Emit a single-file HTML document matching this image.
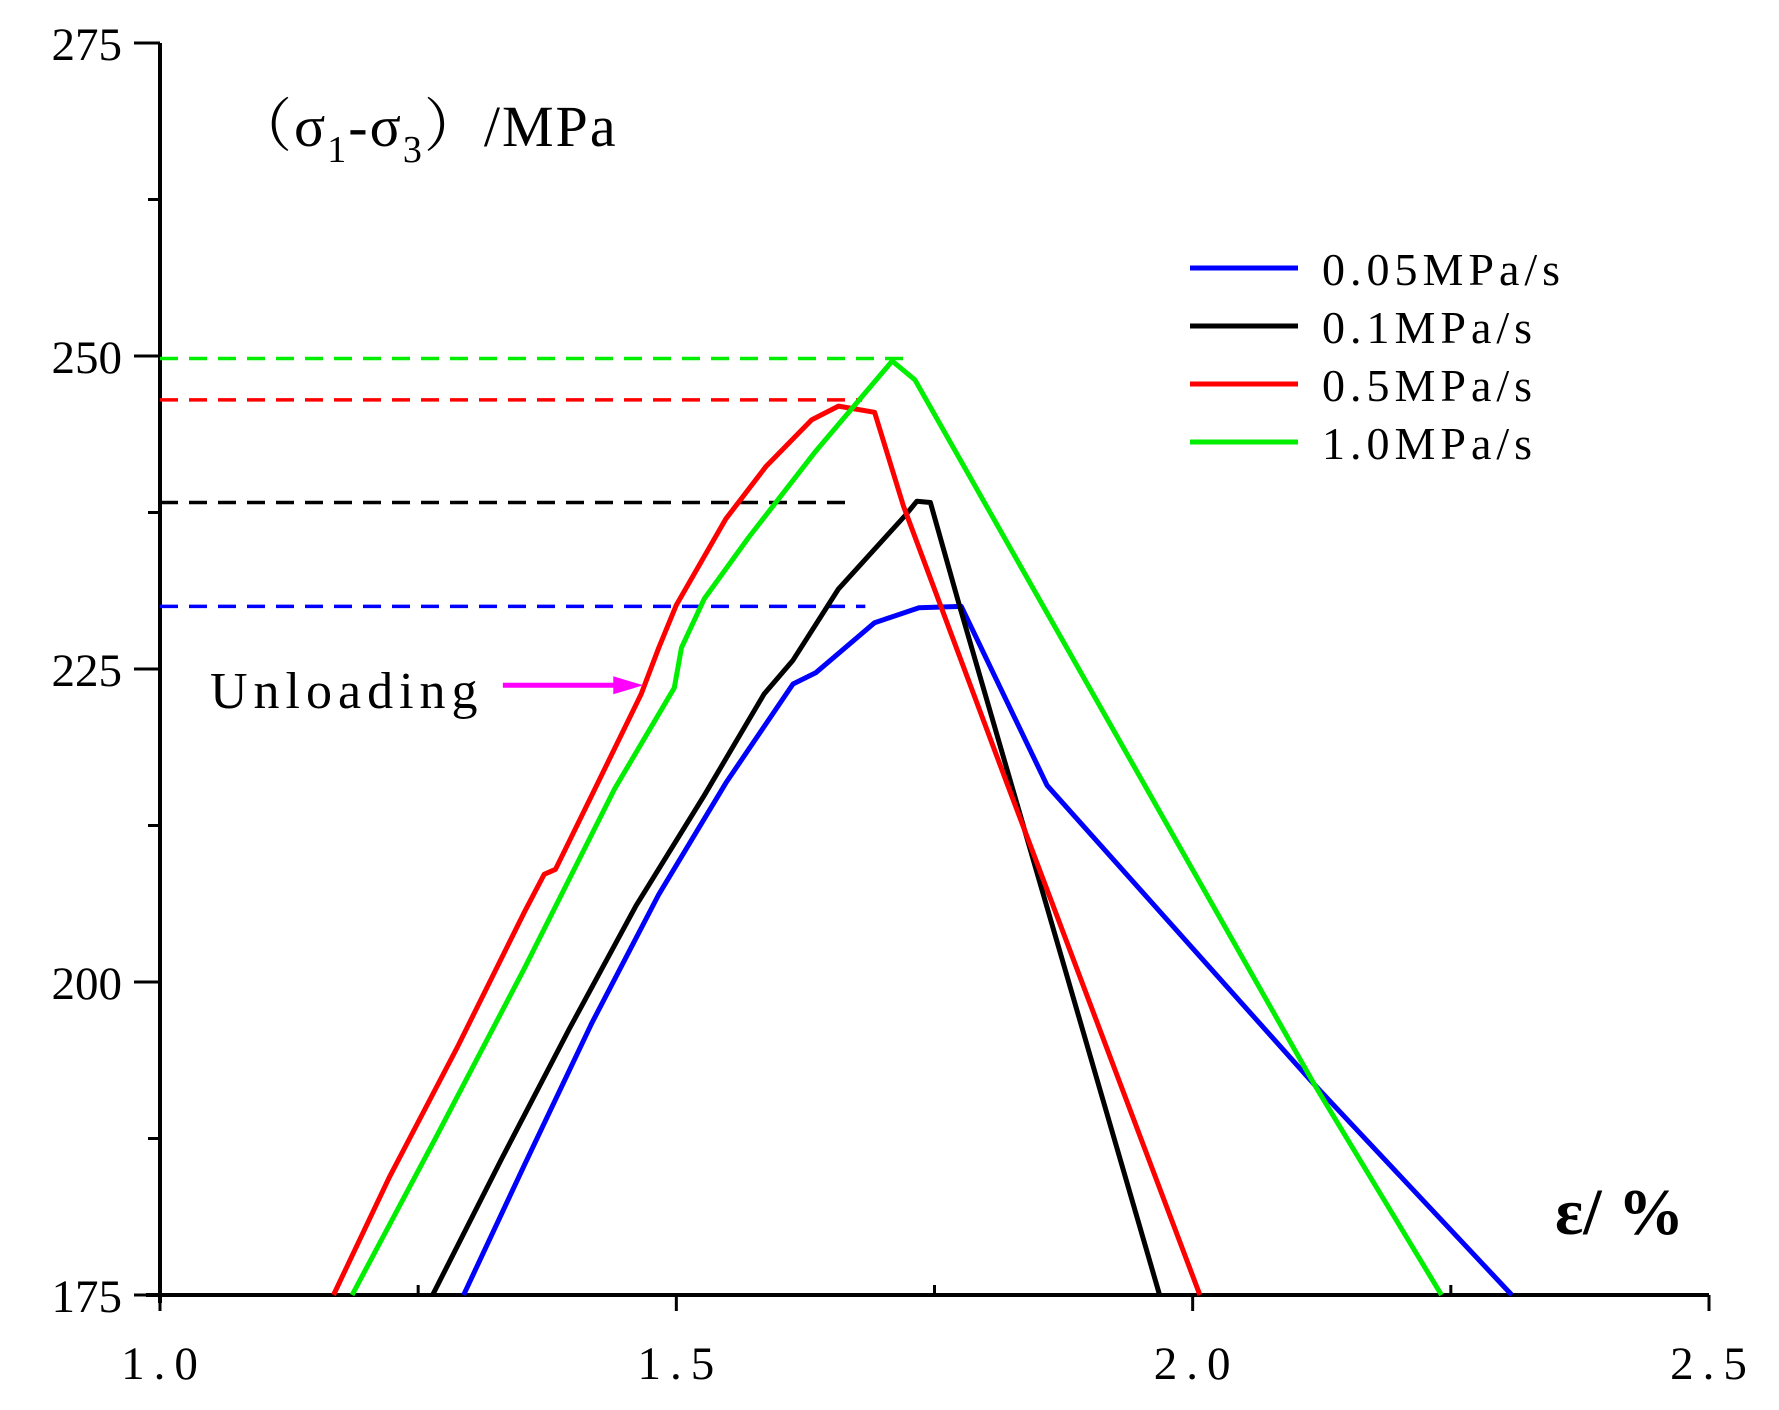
<!DOCTYPE html>
<html><head><meta charset="utf-8"><style>
html,body{margin:0;padding:0;background:#fff;}
svg{display:block;font-family:"Liberation Serif","Noto Serif CJK SC",serif;}
</style></head><body>
<svg id="chart" width="1779" height="1410" viewBox="0 0 1779 1410" xmlns="http://www.w3.org/2000/svg">
<g id="axes"></g>
<g id="series"></g>
<text x="234" y="146" font-size="58" letter-spacing="2">（σ<tspan font-size="38" dy="16">1</tspan><tspan dy="-16">-σ</tspan><tspan font-size="38" dy="16">3</tspan><tspan dy="-16">）/MPa</tspan></text>
<text x="1555" y="1234" font-size="66" font-weight="bold">ε/ %</text>
<text x="210" y="708" font-size="52" letter-spacing="6">Unloading</text>
<g id="legend"></g>
</svg>
<script>
const xTicks = [1.0, 1.5, 2.0, 2.5];
const xTickLabels = ["1.0", "1.5", "2.0", "2.5"];
const xMinorTicks = [1.25, 1.75, 2.25];
const yTicks = [175, 200, 225, 250, 275];
const yTickLabels = ["175", "200", "225", "250", "275"];
const yMinorTicks = [187.5, 212.5, 237.5, 262.5];
const seriesNames = ["0.05MPa/s", "0.1MPa/s", "0.5MPa/s", "1.0MPa/s"];
const seriesColors = ["#0000ff", "#000000", "#ff0000", "#00ee00"];
const blueX = [1.294,1.353,1.418,1.483,1.548,1.613,1.635,1.692,1.735,1.776,1.859,2.118,2.309];
const blueY = [175,185.4,196.7,207.0,215.9,223.8,224.7,228.7,229.9,230.0,215.7,191.8,175];
const blackX = [1.264,1.331,1.396,1.461,1.527,1.585,1.613,1.657,1.722,1.733,1.746,1.774,1.968];
const blackY = [175,185.9,196.2,206.1,214.9,223.0,225.7,231.4,237.3,238.4,238.3,230.1,175];
const redX = [1.168,1.222,1.288,1.353,1.372,1.383,1.418,1.466,1.483,1.500,1.548,1.587,1.631,1.657,1.692,1.720,1.820,2.007];
const redY = [175,184.4,194.8,205.6,208.6,209.0,214.9,223.0,226.7,230.1,237.0,241.2,244.9,246.0,245.5,238.0,215.9,175];
const greenX = [1.186,1.266,1.353,1.440,1.498,1.505,1.527,1.570,1.635,1.709,1.731,2.118,2.241];
const greenY = [175,187.4,201.1,215.4,223.5,226.7,230.6,235.5,242.4,249.6,248.1,191.8,175];
const peakY = [230.0, 238.3, 246.5, 249.8];
const peakEndX = [1.683, 1.669, 1.680, 1.720];
const arrowX = [1.332, 1.468];
const arrowY = 223.7;

const X0=160, X1=1709, Y0=1295, Y1=43;
const sx = v => X0 + (v-1.0)/(2.5-1.0)*(X1-X0);
const sy = v => Y0 - (v-175)/(275-175)*(Y0-Y1);
const NS="http://www.w3.org/2000/svg";
function mk(tag, attrs, parent){const e=document.createElementNS(NS,tag);for(const k in attrs)e.setAttribute(k,attrs[k]);parent.appendChild(e);return e;}
const axes=document.getElementById('axes'), series=document.getElementById('series'), legend=document.getElementById('legend');

let e=mk('line',{x1:X0,y1:Y0+8,x2:X0,y2:Y1,stroke:'#000','stroke-width':4},axes);


e=mk('line',{x1:X0-14,y1:Y0,x2:X1,y2:Y0,stroke:'#000','stroke-width':4},axes);


yTicks.forEach((v,i)=>{
  let t=mk('line',{x1:X0-26,y1:sy(v),x2:X0,y2:sy(v),stroke:'#000','stroke-width':3},axes);
  
  
  let l=mk('text',{x:X0-38,y:sy(v)+17,'font-size':47,'text-anchor':'end'},axes);
  l.textContent=yTickLabels[i];
  
  
});
yMinorTicks.forEach(v=>{
  let t=mk('line',{x1:X0-12,y1:sy(v),x2:X0,y2:sy(v),stroke:'#000','stroke-width':3},axes);
  
  
});
xTicks.forEach((v,i)=>{
  let t=mk('line',{x1:sx(v),y1:Y0,x2:sx(v),y2:Y0+16,stroke:'#000','stroke-width':3},axes);
  
  
  let l=mk('text',{x:sx(v)+4,y:Y0+84,'font-size':47,'text-anchor':'middle','letter-spacing':'9'},axes);
  l.textContent=xTickLabels[i];
  
  
});
xMinorTicks.forEach(v=>{
  let t=mk('line',{x1:sx(v),y1:Y0,x2:sx(v),y2:Y0-10,stroke:'#000','stroke-width':3},axes);
  
  
});

const allX=[blueX,blackX,redX,greenX], allY=[blueY,blackY,redY,greenY];
const ids=['blue','black','red','green'];
peakY.forEach((v,i)=>{
  let d=mk('line',{x1:X0,y1:sy(v),x2:sx(peakEndX[i]),y2:sy(v),stroke:seriesColors[i],'stroke-width':3.5,'stroke-dasharray':'18 11'},series);
  
  
});
allX.forEach((xs,i)=>{
  const pts=xs.map((x,j)=>sx(x).toFixed(1)+','+sy(allY[i][j]).toFixed(1)).join(' ');
  let p=mk('polyline',{points:pts,fill:'none',stroke:seriesColors[i],'stroke-width':5,'stroke-linejoin':'round'},series);
  
  
});
let a=mk('line',{x1:sx(arrowX[0]),y1:sy(arrowY),x2:sx(arrowX[1])-22,y2:sy(arrowY),stroke:'#ff00ff','stroke-width':5},series);


const ax=sx(arrowX[1]), ay=sy(arrowY);
let ah=mk('polygon',{points:`${ax},${ay} ${ax-30},${ay-9} ${ax-30},${ay+9}`,fill:'#ff00ff'},series);


seriesNames.forEach((n,i)=>{
  const y=268+i*58;
  let g=mk('g',{},legend);
  
  
  mk('line',{x1:1190,y1:y,x2:1298,y2:y,stroke:seriesColors[i],'stroke-width':5},g);
  let t=mk('text',{x:1322,y:y+17,'font-size':46,'letter-spacing':'5'},g);
  t.textContent=n;
});
</script>
</body></html>
